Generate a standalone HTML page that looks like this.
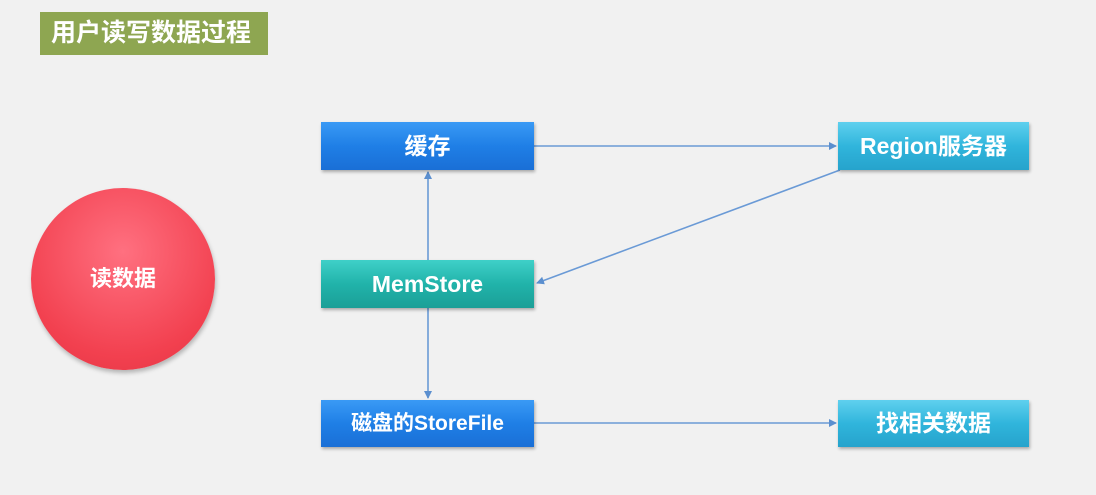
<!DOCTYPE html>
<html><head><meta charset="utf-8"><style>
body{margin:0;width:1096px;height:495px;background:#f1f1f1;position:relative;overflow:hidden;font-family:"Liberation Sans","Noto Sans CJK SC",sans-serif;}
.t{position:absolute;left:40px;top:12px;width:228px;height:43px;background:#8ea651;color:#fff;font-size:25px;font-weight:bold;line-height:43px;text-indent:11px;white-space:nowrap;}
.b{position:absolute;color:#fff;font-weight:bold;font-size:23px;text-align:center;box-shadow:1px 2px 3px rgba(0,0,0,.3);}
.blue{background:linear-gradient(#3a9af5,#1f7fe6 50%,#1a6fd6);}
.teal{background:linear-gradient(#3fd0c8,#21b3aa 50%,#1b9f97);}
.cyan{background:linear-gradient(#5fd0ee,#30b5dc 50%,#26a3cc);}
.c{position:absolute;left:31px;top:188px;width:184px;height:182px;border-radius:50%;background:radial-gradient(circle at 50% 35%,#ff7080,#f2404f 70%,#e23544);color:#fff;font-weight:bold;font-size:22px;text-align:center;line-height:182px;box-shadow:1px 3px 4px rgba(0,0,0,.25);}
</style></head><body>
<div class="t">用户读写数据过程</div>
<div class="c">读数据</div>
<svg width="1096" height="495" style="position:absolute;left:0;top:0">
<defs><marker id="a" markerWidth="8" markerHeight="8" refX="7" refY="4" orient="auto" markerUnits="userSpaceOnUse"><path d="M0,0L8,4L0,8z" fill="#5b8fcf"/></marker></defs>
<g stroke="#6a9ad6" stroke-width="1.6" fill="none">
<line x1="534" y1="146" x2="836" y2="146" marker-end="url(#a)"/>
<line x1="428" y1="260" x2="428" y2="172" marker-end="url(#a)"/>
<line x1="840" y1="170" x2="537" y2="283" marker-end="url(#a)"/>
<line x1="428" y1="308" x2="428" y2="398" marker-end="url(#a)"/>
<line x1="534" y1="423" x2="836" y2="423" marker-end="url(#a)"/>
</g></svg>
<div class="b blue" style="left:321px;top:122px;width:213px;height:48px;line-height:48px">缓存</div>
<div class="b teal" style="left:321px;top:260px;width:213px;height:48px;line-height:48px">MemStore</div>
<div class="b blue" style="left:321px;top:400px;width:213px;height:47px;line-height:47px;font-size:21px">磁盘的StoreFile</div>
<div class="b cyan" style="left:838px;top:122px;width:191px;height:48px;line-height:48px">Region服务器</div>
<div class="b cyan" style="left:838px;top:400px;width:191px;height:47px;line-height:47px">找相关数据</div>
</body></html>
